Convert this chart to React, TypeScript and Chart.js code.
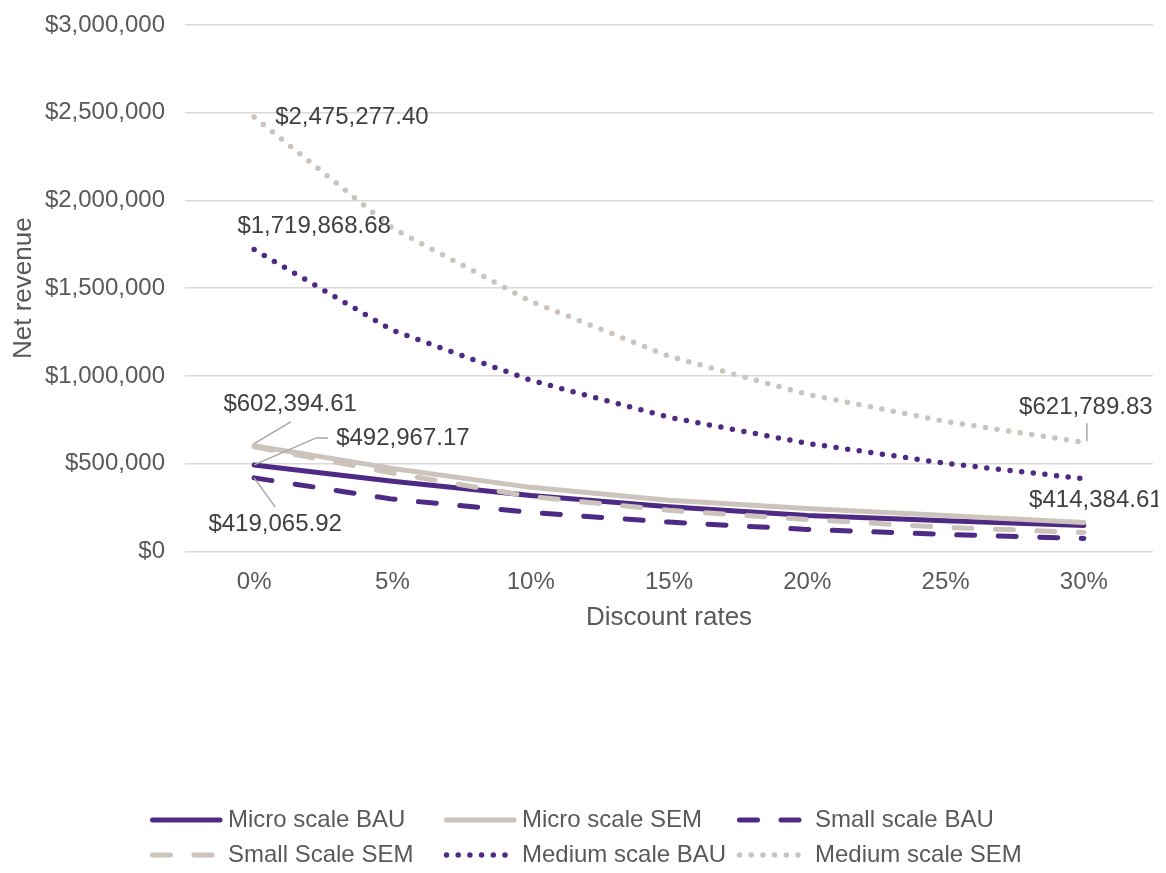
import React, { useEffect, useRef } from 'react';
import { Chart, registerables } from 'chart.js';
Chart.register(...registerables);

const categories = ['0%', '5%', '10%', '15%', '20%', '25%', '30%'];
const seriesNames = ['Micro scale BAU', 'Micro scale SEM', 'Small scale BAU', 'Small Scale SEM', 'Medium scale BAU', 'Medium scale SEM'];
const microBAU = [492967.17, 400000, 318000, 255000, 205000, 175000, 148000];
const microSEM = [602394.61, 473000, 365000, 291000, 245000, 205000, 165000];
const smallBAU = [419065.92, 298000, 222000, 167000, 125000, 97000, 74000];
const smallSEM = [596000, 447000, 312000, 234000, 182000, 137000, 108000];
const mediumBAU = [1719868.68, 1260000, 975000, 764000, 616000, 502000, 414384.61];
const mediumSEM = [2475277.40, 1842000, 1425000, 1112000, 895000, 741000, 621789.83];
const yTicks = [0, 500000, 1000000, 1500000, 2000000, 2500000, 3000000];

const PURPLE = '#4E2A84';
const GRAY = '#CCC4BC';
const FONT = '"Liberation Sans", Arial, sans-serif';

const fmtMoney = (v: number) => '$' + v.toLocaleString('en-US', { minimumFractionDigits: 2, maximumFractionDigits: 2 });

// data label placement: dataset index, point index, text offset, alignment, leader path offsets
const labelSpecs = [
  { ds: 5, i: 0, dx: 21, dy: 0, align: 'left', leader: [] as number[][] },
  { ds: 4, i: 0, dx: 60, dy: -23, align: 'center', leader: [] as number[][] },
  { ds: 1, i: 0, dx: 36, dy: -41, align: 'center', leader: [[0, -2], [37, -24]] },
  { ds: 0, i: 0, dx: 82, dy: -27, align: 'left', leader: [[0, 0], [62, -27], [74, -27]] },
  { ds: 2, i: 0, dx: 21, dy: 47, align: 'center', leader: [[0, 0], [21, 29]] },
  { ds: 5, i: 6, dx: 2, dy: -35, align: 'center', leader: [[3, -1], [3, -19]] },
  { ds: 4, i: 6, dx: 12, dy: 22, align: 'center', leader: [] as number[][] },
];

const dataLabelPlugin = {
  id: 'dataLabels',
  afterDatasetsDraw(chart: any) {
    const ctx = chart.ctx;
    ctx.save();
    labelSpecs.forEach((s) => {
      const pt = chart.getDatasetMeta(s.ds).data[s.i];
      const v = chart.data.datasets[s.ds].data[s.i];
      if (s.leader.length > 1) {
        ctx.strokeStyle = '#A6A6A6';
        ctx.lineWidth = 1.5;
        ctx.setLineDash([]);
        ctx.beginPath();
        s.leader.forEach((p, k) => {
          if (k === 0) ctx.moveTo(pt.x + p[0], pt.y + p[1]);
          else ctx.lineTo(pt.x + p[0], pt.y + p[1]);
        });
        ctx.stroke();
      }
      ctx.fillStyle = '#404040';
      ctx.font = '24px ' + FONT;
      ctx.textAlign = s.align;
      ctx.textBaseline = 'middle';
      ctx.fillText(fmtMoney(v), pt.x + s.dx, pt.y + s.dy);
    });
    ctx.restore();
  },
};

const legendPlugin = {
  id: 'customLegend',
  afterDraw(chart: any) {
    const ctx = chart.ctx;
    const cols = [142, 436, 729];
    const rows = [812, 847];
    ctx.save();
    chart.data.datasets.forEach((ds: any, i: number) => {
      const x = cols[i % 3];
      const y = rows[Math.floor(i / 3)];
      ctx.strokeStyle = ds.borderColor;
      ctx.lineWidth = ds.borderWidth;
      ctx.lineCap = ds.borderCapStyle;
      ctx.setLineDash(ds.borderDash || []);
      ctx.beginPath();
      ctx.moveTo(x + 2.5, y);
      ctx.lineTo(x + 70, y);
      ctx.stroke();
      ctx.setLineDash([]);
      ctx.fillStyle = '#595959';
      ctx.font = '24px ' + FONT;
      ctx.textAlign = 'left';
      ctx.textBaseline = 'middle';
      ctx.fillText(ds.label, x + 78, y);
    });
    ctx.restore();
  },
};

export default function App() {
  const ref = useRef<HTMLCanvasElement>(null);
  useEffect(() => {
    if (!ref.current) return;
    const seriesData = [microBAU, microSEM, smallBAU, smallSEM, mediumBAU, mediumSEM];
    const colors = [PURPLE, GRAY, PURPLE, GRAY, PURPLE, GRAY];
    const dashes = [[], [], [18, 23.5], [18, 23.5], [0, 11.7], [0, 11.7]];
    const widths = [5, 5, 5, 5, 5.5, 5.5];
    const chart = new Chart(ref.current, {
      type: 'line',
      data: {
        labels: categories,
        datasets: seriesData.map((d, i) => ({
          label: seriesNames[i],
          data: d,
          borderColor: colors[i],
          backgroundColor: colors[i],
          borderWidth: widths[i],
          borderDash: dashes[i],
          borderCapStyle: 'round',
          borderJoinStyle: 'round',
          pointRadius: 0,
          pointHoverRadius: 0,
          tension: 0,
          fill: false,
          order: 5 - i,
        })),
      },
      options: {
        responsive: true,
        maintainAspectRatio: false,
        animation: false,
        events: [],
        layout: { padding: { left: 0, right: 5, top: 17, bottom: 240 } },
        plugins: { legend: { display: false }, tooltip: { enabled: false }, title: { display: false }, subtitle: { display: false } },
        scales: {
          x: {
            offset: true,
            grid: { display: false, drawTicks: false },
            border: { display: false },
            ticks: { color: '#595959', font: { size: 24, family: FONT }, padding: 17 },
            title: { display: true, text: 'Discount rates', color: '#595959', font: { size: 26, family: FONT }, padding: 0 },
            afterFit: (s: any) => { s.height = 81.6; s.paddingLeft = 0; s.paddingRight = 0; },
          },
          y: {
            min: 0,
            max: 3000000,
            afterBuildTicks: (s: any) => { s.ticks = yTicks.map((v) => ({ value: v })); },
            grid: { color: '#D9D9D9', lineWidth: 1.5, drawTicks: false },
            border: { display: false },
            ticks: {
              color: '#595959',
              font: { size: 24, family: FONT },
              padding: 20,
              callback: (v: any) => '$' + Number(v).toLocaleString('en-US'),
            },
            title: { display: true, text: 'Net revenue', color: '#595959', font: { size: 26, family: FONT }, padding: 0 },
            afterFit: (s: any) => { s.width = 177; s.paddingTop = 0; s.paddingBottom = 0; },
          },
        },
      },
      plugins: [dataLabelPlugin, legendPlugin],
    } as any);
    return () => chart.destroy();
  }, []);
  return (
    <div style={{ width: 1150, height: 865, marginBottom: -8, position: 'relative' }}>
      <canvas ref={ref} />
    </div>
  );
}
